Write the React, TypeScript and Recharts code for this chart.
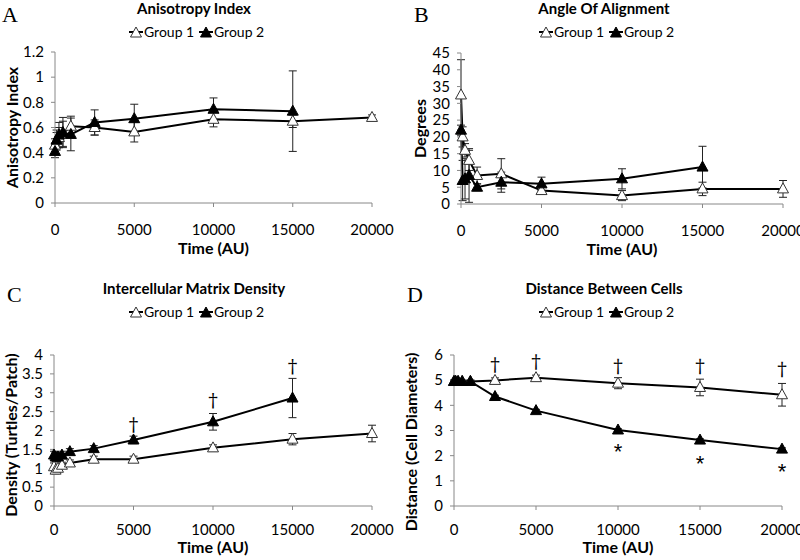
import React from "react";
import { LineChart, Line, XAxis, YAxis, ErrorBar, ReferenceDot } from "recharts";

const times = [0, 100, 250, 500, 1000, 2500, 5000, 10000, 15000, 20000];
const xTicks = [0, 5000, 10000, 15000, 20000];

// Panel A: Anisotropy Index
const anisoG1 = [0.46, 0.5, 0.52, 0.55, 0.61, 0.6, 0.565, 0.665, 0.65, 0.68];
const anisoG1Err = [0.05, 0.06, 0.08, 0.1, 0.08, 0.06, 0.08, 0.06, 0.05, 0.02];
const anisoG2 = [0.41, 0.5, 0.54, 0.56, 0.545, 0.64, 0.67, 0.745, 0.73, null];
const anisoG2Err = [0.05, 0.08, 0.1, 0.12, 0.13, 0.1, 0.115, 0.09, 0.32, null];
const anisoTicks = [0, 0.2, 0.4, 0.6, 0.8, 1, 1.2];

// Panel B: Angle Of Alignment
const angleG1 = [32.5, 20, 16, 13, 8.5, 9, 4, 2.5, 4.5, 4.5];
const angleG1Err = [10.5, 3, 2, 3, 2.5, 4.5, 1, 1.5, 2, 2.5];
const angleG2 = [22, 7, 7.5, 8.5, 5, 6.5, 6, 7.5, 11, null];
const angleG2Err = [1.5, 6, 6, 8, 1, 3, 2, 3, 6.2, null];
const angleTicks = [0, 5, 10, 15, 20, 25, 30, 35, 40, 45];

// Panel C: Intercellular Matrix Density
const densG1 = [1.04, 0.95, 1.0, 1.08, 1.14, 1.24, 1.24, 1.54, 1.77, 1.92];
const densG1Err = [0.1, 0.1, 0.08, 0.08, 0.08, 0.08, 0.08, 0.08, 0.15, 0.22];
const densG2 = [1.35, 1.3, 1.3, 1.35, 1.44, 1.52, 1.75, 2.23, 2.86, null];
const densG2Err = [0.1, 0.12, 0.12, 0.1, 0.08, 0.08, 0.1, 0.22, 0.52, null];
const densTicks = [0, 0.5, 1, 1.5, 2, 2.5, 3, 3.5, 4];
const densDaggerX = [5000, 10000, 15000];
const densDaggerY = [2.2, 2.84, 3.74];

// Panel D: Distance Between Cells
const distG1 = [4.95, 4.95, 4.95, 4.95, 4.95, 4.99, 5.1, 4.88, 4.71, 4.42];
const distG1Err = [0.05, 0.05, 0.05, 0.05, 0.05, 0.1, 0.1, 0.22, 0.33, 0.45];
const distG2 = [4.95, 4.95, 4.95, 4.95, 4.95, 4.35, 3.79, 3.02, 2.62, 2.26];
const distG2Err = [0.05, 0.05, 0.05, 0.05, 0.05, 0.05, 0.05, 0.05, 0.05, 0.05];
const distTicks = [0, 1, 2, 3, 4, 5, 6];
const distDaggerX = [2500, 5000, 10000, 15000, 20000];
const distDaggerY = [5.68, 5.8, 5.62, 5.62, 5.5];
const distStarX = [10000, 15000, 20000];
const distStarY = [2.35, 1.87, 1.55];

const FONT = "Lato, 'Open Sans', sans-serif";
const XH = 30;

function build(g1, e1, g2, e2) {
  return times.map((t, i) => ({ t, g1: g1[i], e1: e1[i], g2: g2[i], e2: e2[i] }));
}

function Tri({ cx, cy, filled }) {
  if (cx == null || cy == null || isNaN(cy)) return <g />;
  const pts = `${cx},${cy - 6} ${cx - 5.5},${cy + 4} ${cx + 5.5},${cy + 4}`;
  return <polygon points={pts} fill={filled ? "#000" : "#fff"} stroke={filled ? "#000" : "#333"} strokeWidth={1} />;
}

function Panel({ left, top, plot, data, domain, ticks, daggers, stars, xTickMargin }) {
  const margin = { top: plot.top, right: 400 - plot.right, bottom: 280 - plot.bottom - XH, left: 0 };
  const tickStyle = { fontFamily: FONT, fontSize: 15, fill: "#000" };
  return (
    <div style={{ position: "absolute", left, top }}>
      <LineChart width={400} height={280} data={data} margin={margin}>
        <XAxis
          dataKey="t"
          type="number"
          domain={[0, 20000]}
          ticks={xTicks}
          height={XH}
          tick={tickStyle}
          tickSize={4}
          tickMargin={xTickMargin}
          axisLine={{ stroke: "#888" }}
          tickLine={{ stroke: "#888" }}
          interval={0}
        />
        <YAxis
          width={plot.left}
          type="number"
          domain={domain}
          ticks={ticks}
          tick={tickStyle}
          tickSize={4}
          tickMargin={7}
          axisLine={{ stroke: "#888" }}
          tickLine={{ stroke: "#888" }}
          interval={0}
          allowDataOverflow
        />
        <Line
          dataKey="g1"
          stroke="#000"
          strokeWidth={2}
          isAnimationActive={false}
          dot={(p) => <Tri key={`a${p.index}`} cx={p.cx} cy={p.cy} filled={false} />}
        >
          <ErrorBar dataKey="e1" width={4} stroke="#222" strokeWidth={1} direction="y" />
        </Line>
        <Line
          dataKey="g2"
          stroke="#000"
          strokeWidth={2}
          isAnimationActive={false}
          dot={(p) => <Tri key={`b${p.index}`} cx={p.cx} cy={p.cy} filled={true} />}
        >
          <ErrorBar dataKey="e2" width={4} stroke="#222" strokeWidth={1} direction="y" />
        </Line>
        {(daggers || []).map((d, i) => (
          <ReferenceDot
            key={`d${i}`}
            x={d[0]}
            y={d[1]}
            r={1}
            shape={(p) => (
              <text
                x={p.cx}
                y={p.cy + 8}
                transform={`rotate(0.3 ${p.cx} ${p.cy})`}
                textAnchor="middle"
                fontFamily="'DejaVu Serif', 'DejaVu Sans', serif"
                fontSize={19}
                fill="#000"
                stroke="none"
              >
                {"\u2020"}
              </text>
            )}
          />
        ))}
        {(stars || []).map((d, i) => (
          <ReferenceDot
            key={`s${i}`}
            x={d[0]}
            y={d[1]}
            r={1}
            shape={(p) => (
              <text x={p.cx} y={p.cy + 12} textAnchor="middle" fontFamily="'Liberation Sans', sans-serif" fontSize={22} fill="#000" stroke="none">
                *
              </text>
            )}
          />
        ))}
      </LineChart>
    </div>
  );
}

function LegendIcon({ x, y, filled }) {
  return (
    <g>
      <line x1={x} y1={y} x2={x + 14} y2={y} stroke="#000" strokeWidth={2} />
      <Tri cx={x + 7} cy={y + 1} filled={filled} />
    </g>
  );
}

function Texts({ ox, oy, letter, letterX, title, legendX, yTitle, yTitleX, yTitleY, plot, xTitleOff }) {
  const cx = ox + (plot.left + plot.right) / 2;
  return (
    <g>
      <text x={ox + letterX} y={oy + 22} fontFamily="'Liberation Serif', serif" fontSize={22}>{letter}</text>
      <text x={ox + 194 + (ox ? 10 : 0)} y={oy + 14} textAnchor="middle" fontFamily={FONT} fontWeight="bold" fontSize={15}>{title}</text>
      <LegendIcon x={ox + legendX} y={oy + 32} filled={false} />
      <text x={ox + legendX + 15} y={oy + 37} fontFamily={FONT} fontSize={14}>Group 1</text>
      <LegendIcon x={ox + legendX + 70} y={oy + 32} filled={true} />
      <text x={ox + legendX + 85} y={oy + 37} fontFamily={FONT} fontSize={14}>Group 2</text>
      <text x={cx} y={oy + plot.bottom + xTitleOff} textAnchor="middle" fontFamily={FONT} fontWeight="bold" fontSize={16}>Time (AU)</text>
      <text
        x={ox + yTitleX}
        y={oy + yTitleY}
        transform={`rotate(-90 ${ox + yTitleX} ${oy + yTitleY})`}
        textAnchor="middle"
        fontFamily={FONT}
        fontWeight="bold"
        fontSize={16}
      >
        {yTitle}
      </text>
    </g>
  );
}

const plotA = { left: 55, right: 372, top: 52, bottom: 203 };
const plotB = { left: 61, right: 383, top: 53, bottom: 204 };
const plotC = { left: 54, right: 372, top: 75, bottom: 226 };
const plotD = { left: 54, right: 382, top: 75, bottom: 226 };

export default function App() {
  const dataA = build(anisoG1, anisoG1Err, anisoG2, anisoG2Err);
  const dataB = build(angleG1, angleG1Err, angleG2, angleG2Err);
  const dataC = build(densG1, densG1Err, densG2, densG2Err);
  const dataD = build(distG1, distG1Err, distG2, distG2Err);
  const dC = densDaggerX.map((x, i) => [x, densDaggerY[i]]);
  const dD = distDaggerX.map((x, i) => [x, distDaggerY[i]]);
  const sD = distStarX.map((x, i) => [x, distStarY[i]]);
  return (
    <div style={{ position: "absolute", left: 0, top: 0, width: 800, height: 560, background: "#fff", overflow: "hidden" }}>
      <Panel left={0} top={0} plot={plotA} data={dataA} domain={[0, 1.2]} ticks={anisoTicks} xTickMargin={17} />
      <Panel left={400} top={0} plot={plotB} data={dataB} domain={[0, 45]} ticks={angleTicks} xTickMargin={17} />
      <Panel left={0} top={280} plot={plotC} data={dataC} domain={[0, 4]} ticks={densTicks} daggers={dC} xTickMargin={14} />
      <Panel left={400} top={280} plot={plotD} data={dataD} domain={[0, 6]} ticks={distTicks} daggers={dD} stars={sD} xTickMargin={14} />
      <svg width={800} height={560} style={{ position: "absolute", left: 0, top: 0, pointerEvents: "none" }}>
        <Texts ox={0} oy={0} letter="A" letterX={2} title="Anisotropy Index" legendX={129} yTitle="Anisotropy Index" yTitleX={18} yTitleY={127.5} plot={plotA} xTitleOff={51} />
        <Texts ox={400} oy={0} letter="B" letterX={14} title="Angle Of Alignment" legendX={139} yTitle="Degrees" yTitleX={26} yTitleY={128.5} plot={plotB} xTitleOff={51} />
        <Texts ox={0} oy={280} letter="C" letterX={7} title="Intercellular Matrix Density" legendX={129} yTitle="Density (Turtles/Patch)" yTitleX={17} yTitleY={155} plot={plotC} xTitleOff={47} />
        <Texts ox={400} oy={280} letter="D" letterX={7} title="Distance Between Cells" legendX={139} yTitle="Distance (Cell Diameters)" yTitleX={17} yTitleY={162} plot={plotD} xTitleOff={47} />
      </svg>
    </div>
  );
}
